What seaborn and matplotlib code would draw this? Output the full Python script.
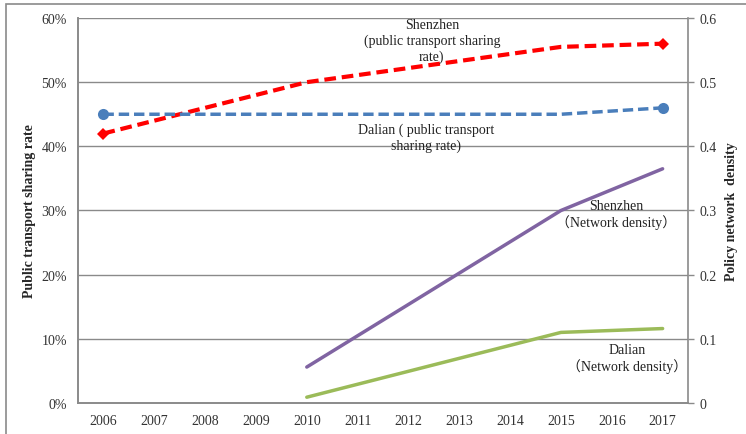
import matplotlib
matplotlib.use("Agg")
import matplotlib.pyplot as plt
import matplotlib.ticker as mticker
from matplotlib.patches import Rectangle
import seaborn as sns

# Public transport sharing rate (share of trips)
sz_share_years = [2006, 2010, 2015, 2017]
sz_share = [0.42, 0.50, 0.555, 0.56]
dl_share_years = [2006, 2015, 2017]
dl_share = [0.45, 0.45, 0.46]

# Policy network density
sz_density_years = [2010, 2015, 2017]
sz_density = [0.056, 0.30, 0.365]
dl_density_years = [2010, 2015, 2017]
dl_density = [0.009, 0.11, 0.116]

years = list(range(2006, 2018))
left_ticks = [0, 0.1, 0.2, 0.3, 0.4, 0.5, 0.6]
right_ticks = [0, 0.1, 0.2, 0.3, 0.4, 0.5, 0.6]
right_tick_labels = ["0", "0.1", "0.2", "0.3", "0.4", "0.5", "0.6"]

sns.set_theme(style="white")
serif = ["Liberation Serif", "Noto Sans CJK SC", "DejaVu Sans"]
plt.rcParams["font.family"] = serif
plt.rcParams["font.size"] = 10

fig = plt.figure(figsize=(7.46, 4.35), dpi=100)
ax = fig.add_axes([0.1046, 0.0713, 0.8177, 0.885])
ax2 = ax.twinx()

grid_c = "#8a8a8a"
label_c = "#333333"
ax.set_ylim(0, 0.6)
ax2.set_ylim(0, 0.6)
ax.set_xlim(2005.5, 2017.5)
ax.set_yticks(left_ticks)
ax.yaxis.set_major_formatter(mticker.PercentFormatter(1.0, decimals=0))
for y in left_ticks[1:]:
    ax.axhline(y, color=grid_c, lw=1.0, zorder=0)

sns.lineplot(x=sz_share_years, y=sz_share, ax=ax, color="#ff0000", lw=3,
             linestyle=(0, (2.8, 1.4)), marker="D", markersize=6,
             markevery=[0, len(sz_share) - 1], markeredgewidth=0, zorder=3)
sns.lineplot(x=dl_share_years, y=dl_share, ax=ax, color="#4a7ebb", lw=2.5,
             linestyle=(0, (3, 1.4)), marker="o", markersize=8,
             markevery=[0, len(dl_share) - 1], markeredgewidth=0, zorder=3)
sns.lineplot(x=sz_density_years, y=sz_density, ax=ax2, color="#8064a2", lw=2.5, zorder=3)
sns.lineplot(x=dl_density_years, y=dl_density, ax=ax2, color="#9bbb59", lw=2.5, zorder=3)

ax.set_xticks(years)
ax.set_xticks([y + 0.5 for y in years[:-1]], minor=True)
ax.tick_params(axis="x", which="major", length=0, pad=8, labelsize=10, labelcolor=label_c)
ax.tick_params(axis="x", which="minor", direction="in", length=3, color=grid_c, width=1)
ax.tick_params(axis="y", length=0, pad=8, labelsize=10, labelcolor=label_c)
ax.set_yticks(left_ticks)

ax2.set_yticks(right_ticks)
ax2.set_yticklabels(right_tick_labels)
ax2.tick_params(axis="y", direction="out", length=4, color=grid_c, width=1, pad=4,
                labelsize=10, labelcolor=label_c)

for a in (ax, ax2):
    for side, sp in a.spines.items():
        sp.set_color(grid_c)
        sp.set_linewidth(1.2)
    a.spines["top"].set_visible(False)
ax.spines["right"].set_visible(False)

ax.set_ylabel("Public transport sharing rate", fontweight="bold", fontsize=10, labelpad=4)
ax2.set_ylabel("Policy network  density", fontweight="bold", fontsize=10, labelpad=6)
ax.set_xlabel("")
ax2.set_xlabel("")

txt = dict(ha="center", va="center", fontsize=10, linespacing=1.2, color="#222222", zorder=5)
ax.text(2012.46, 0.565, "Shenzhen\n(public transport sharing\nrate)", **txt)
ax.text(2012.35, 0.414, "Dalian ( public transport\nsharing rate)", **txt)
ax.text(2016.08, 0.294, "Shenzhen\n（Network density）", **txt)
ax.text(2016.3, 0.070, "Dalian\n（Network density）", **txt)

# Outer chart-area frame
fig.patches.append(Rectangle((6 / 746, -0.02), 1.0, (435 - 5) / 435 + 0.02,
                             transform=fig.transFigure, fill=False,
                             edgecolor="#8a8a8a", lw=1.2))

fig.savefig("out.png", dpi=100)
